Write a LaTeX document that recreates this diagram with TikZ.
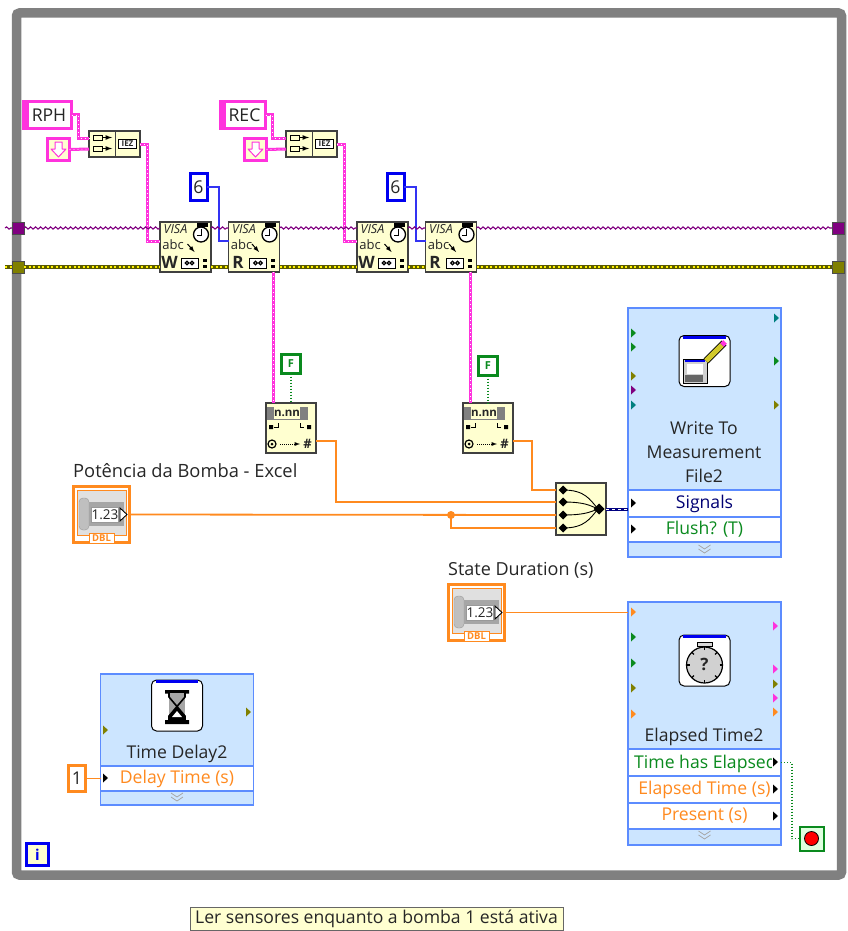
\documentclass[tikz,border=0pt]{standalone}
\usepackage{fontspec}
\setmainfont{Open Sans}
\usetikzlibrary{calc,decorations.pathmorphing}
\definecolor{lvgray}{HTML}{808080}
\definecolor{lvpink}{HTML}{FF33DD}
\definecolor{lvorange}{HTML}{FF8A1F}
\definecolor{lvblue}{HTML}{0000F0}
\definecolor{lvgreen}{HTML}{0A8A1E}
\definecolor{lvolive}{HTML}{808000}
\definecolor{lvpurple}{HTML}{800080}
\definecolor{lvteal}{HTML}{008080}
\definecolor{lvcream}{HTML}{FFFFD0}
\definecolor{lvpanel}{HTML}{CCE5FF}
\definecolor{lvedge}{HTML}{5C8CFF}
\tikzset{
  lvtext/.style={font=\fontsize{17.6}{20}\selectfont,text=black!85},
  tiny/.style={font=\fontsize{#1}{#1}\selectfont,inner sep=0pt},
  subvi/.style={draw=black!75,line width=1.3pt,fill=lvcream,inner sep=0pt,outer sep=0pt},
  constbox/.style={draw=#1,line width=3pt,fill=white,inner sep=0pt,outer sep=0pt,lvtext},
  panel/.style={draw=lvedge,line width=1.6pt,fill=lvpanel,inner sep=0pt,outer sep=0pt},
  rowbox/.style={draw=lvedge,line width=1.4pt,fill=white,minimum width=153,inner sep=0pt,outer sep=0pt,lvtext},
  iconbox/.style={draw=black,line width=1pt,fill=white,rounded corners=5pt,minimum size=51,inner sep=0pt,outer sep=0pt},
  numwire/.style={draw=lvorange,line width=1.8pt},
  strwire/.style={draw=lvpink,line width=3pt,postaction={draw=white,line width=.5pt,dash pattern=on 1pt off 3pt}},
  intwire/.style={draw=lvblue!80!white,line width=1.2pt},
  boolwire/.style={draw=lvgreen,line width=1.2pt,dash pattern=on 1.4pt off 1.6pt},
  viswire/.style={draw=lvpurple,line width=1.1pt,decorate,decoration={snake,amplitude=1.1pt,segment length=5pt}},
  errwire/.style={draw=lvolive!70!black,line width=3.2pt,postaction={draw=yellow,line width=1.2pt,dash pattern=on 2pt off 2.5pt}},
  sigwire/.style={draw=blue!50!black,line width=3pt,postaction={draw=white,line width=1pt,dash pattern=on 3pt off 3pt}},
}
\begin{document}
\begin{tikzpicture}[x=1pt,y=-1pt,every node/.style={lvtext}]
\useasboundingbox (0,0) rectangle (847,931);
\node[draw=lvgray,line width=9.5pt,rounded corners=3pt,minimum width=825,minimum height=862,inner sep=0pt] (whileloop) at (429,444) {};
% tunnels
\foreach \n/\x/\y/\c in {visl/18/228/lvpurple,errl/18/267/lvolive,visr/838/228/lvpurple,errr/838/267/lvolive} {
  \node[draw=black!70,fill=\c,minimum size=12,inner sep=0pt,outer sep=0pt] (\n) at (\x,\y) {};
}
% string parts and VISA pairs
\foreach \k/\dx/\t/\r/\w/\fy in {1/0/RPH/73/51/364,2/197/REC/70/48/366} {
\begin{scope}[shift={(\dx,0)}]
  \node[constbox=lvpink,anchor=east,minimum width=\w-3,minimum height=27] (str\k) at (\r-1.5,115) {\hspace{3pt}\t};
  \fill[lvpink] (str\k.north west) rectangle ($(str\k.south west)+(5,0)$);
  \node[constbox=lvpink,fill=lvcream,minimum size=22] (eol\k) at (58.5,149.5) {};
  \draw[lvpink,line width=1pt,fill=white,line join=round] (55,142) -- (62,142) -- (62,149) -- (66,149) -- (58.5,157) -- (51,149) -- (55,149) -- cycle;
  \node[subvi,minimum width=51,minimum height=26] (concat\k) at (114.5,144) {};
  \draw[black!75,line width=1pt] (115,131) -- (115,157);
  \draw[black,line width=.9pt] (93,135) rectangle (102,140) (93,146) rectangle (102,151);
  \foreach \y in {137.5,148.5} {\draw[-latex,black,line width=1.2pt] (103,\y) -- (112,\y);}
  \node[draw=black,line width=1pt,fill=white,minimum width=18,minimum height=9,inner sep=0pt,font=\fontsize{8}{8}\bfseries\selectfont] at (127.5,144) {IEZ};
  \coordinate (concat\k a) at (89,138);
  \coordinate (concat\k b) at (89,149);
  \draw[strwire] (str\k.east) -- ++(7,0) |- (concat\k a);
  \draw[strwire] (eol\k.east) -- (concat\k b);
  \node[constbox=lvblue,minimum width=17,minimum height=27] (six\k) at (198.5,187) {6};
  \foreach \n/\x/\l/\a in {visaw/185.5/W/1,visar/254/R/-1} {
  \begin{scope}[shift={(\x,247)}]
    \node[subvi,minimum width=51,minimum height=50] (\n\k) at (0,0) {};
    \node[font=\fontsize{12.5}{13}\itshape\selectfont,inner sep=0pt] at (-10,-17.5) {VISA};
    \node[tiny=13] at (-12.5,-2.5) {abc};
    \fill[black] (11,-24.5) rectangle (22,-20);
    \draw[black,line width=1.3pt,fill=white] (15.5,-12.5) circle (7.5);
    \draw[black,line width=1pt] (15.5,-18) -- (15.5,-12) -- (11,-12);
    \draw[-latex,black,line width=1pt] (\a*2-0,-3) -- (\a*2+7,5);
    \node[font=\fontsize{17}{17}\bfseries\selectfont,inner sep=0pt] at (-16,15.5) {\l};
    \node[draw=black,line width=1pt,fill=white,minimum width=17,minimum height=10,inner sep=0pt] at (4,16) {};
    \draw[black,line width=1.2pt] (1.5,16) circle (1.7) (6.5,16) circle (1.7);
    \foreach \y in {12,18} {\fill[black] (17,\y) rectangle (21,\y+3);}
    \coordinate (\n\k vi) at (-25.5,-19);
    \coordinate (\n\k vo) at (25.5,-19);
    \coordinate (\n\k ei) at (-25.5,20);
    \coordinate (\n\k eo) at (25.5,20);
    \coordinate (\n\k in) at (-25.5,-6);
    \coordinate (\n\k out) at (19,25);
  \end{scope}
  }
  \draw[strwire] (concat\k.east) -- ++(7,0) |- (visaw\k in);
  \draw[intwire] (six\k.east) -- ++(12,0) |- (visar\k in);
  \node[constbox=lvgreen,minimum size=19,font=\fontsize{11}{12}\bfseries\selectfont,text=lvgreen] (fconst\k) at (291,\fy) {F};
  \node[subvi,minimum size=50] (frac\k) at (291,428) {};
  \node[draw=none,fill=black!50,minimum width=41,minimum height=13,inner sep=0pt] at (287,413) {};
  \node[fill=lvcream,minimum width=26,minimum height=12,inner sep=0pt,font=\fontsize{11.5}{12}\bfseries\selectfont] at (287,413) {n.nn};
  \fill[black] (269,425) rectangle (273,429) (311,425) rectangle (307,429);
  \draw[black,line width=1pt] (274,427) -- (278,427) -- (278,423) (304,427) -- (300,427) -- (300,423);
  \draw[black,line width=1.2pt] (272,444) circle (4);
  \fill[black] (272,444) circle (1.5);
  \draw[-latex,black,line width=.9pt,dash pattern=on 1pt off 1pt] (280,444) -- (300,444);
  \node[font=\fontsize{13}{13}\bfseries\selectfont,inner sep=0pt] at (307.5,444) {\#};
  \coordinate (frac\k out) at (316,441);
  \draw[strwire] (visar\k out) -- (visar\k out |- frac\k.north);
  \draw[boolwire] (fconst\k.south) -- (frac\k.north);
\end{scope}
}
% chain wires
\coordinate (visstub) at (5,228);
\coordinate (errstub) at (5,267);
\draw[viswire] (visstub) -- (visl.west);
\draw[errwire] (errstub) -- (errl.west);
\foreach \a/\b in {visl.east/visaw1vi,visaw1vo/visar1vi,visar1vo/visaw2vi,visaw2vo/visar2vi,visar2vo/visr.west} {\draw[viswire] (\a) -- (\b);}
\foreach \a/\b in {errl.east/visaw1ei,visaw1eo/visar1ei,visar1eo/visaw2ei,visaw2eo/visar2ei,visar2eo/errr.west} {\draw[errwire] (\a) -- (\b);}
% controls
\foreach \n/\x/\y/\t/\lx/\fs in {potencia/72/485/{Potência da Bomba - Excel}/73/18.3,duracao/447/583/{State Duration (s)}/448/18} {
\begin{scope}[shift={(\x,\y)}]
  \node[draw=lvorange,line width=3pt,fill=white,minimum size=56,inner sep=0pt,outer sep=0pt] (\n) at (29.5,29.5) {};
  \draw[lvorange,line width=.8pt,fill=black!12] (5,5) rectangle (54,50);
  \fill[black!35] (8,17) rectangle (52,41);
  \fill[black!25,draw=black!40,rounded corners=4pt] (7,13) rectangle (17,45);
  \node[draw=black!40,fill=white,minimum width=27,minimum height=15,inner sep=0pt,font=\fontsize{13.5}{14}\selectfont] at (33,29.5) {1.23};
  \draw[black,line width=.9pt,fill=white] (48,23) -- (55,29.5) -- (48,36) -- cycle;
  \node[draw=lvorange,line width=1pt,fill=white,text=lvorange,minimum width=25,minimum height=10,inner sep=0pt,font=\fontsize{9.5}{9}\bfseries\selectfont] at (29.5,53) {DBL};
  \node[anchor=base west,inner sep=0pt,font=\fontsize{\fs}{20}\selectfont] (\n label) at (\lx-\x,-8) {\t};
\end{scope}
}
% merge signals
\node[subvi,minimum width=50,minimum height=52] (merge) at (581,509) {};
\foreach \n/\y in {a/490,b/502,c/515,d/528} {
  \coordinate (merge\n) at (556,\y);
  \fill[black] (563,\y-4.5) -- (567.5,\y) -- (563,\y+4.5) -- (558.5,\y) -- cycle;
  \draw[black,line width=.9pt] (563,\y) .. controls (585,\y) and (590,{(\y+509)/2}) .. (598,509);
}
\fill[black] (599,503.5) -- (604.5,509) -- (599,514.5) -- (593.5,509) -- cycle;
% express blocks
\node[panel,minimum width=153,minimum height=249] (writefile) at (704.5,432.5) {};
\node[panel,minimum width=153,minimum height=243] (elapsed) at (704.5,723.5) {};
\node[panel,minimum width=153,minimum height=131] (timedelay) at (177,739.5) {};
\foreach \n/\x/\y/\h/\c/\t in {signals/704.5/503.5/27/blue!45!black/Signals,flush/704.5/529.5/25/lvgreen/Flush? (T),delayrow/177/778.5/25/lvorange/Delay Time (s),timerow/704.5/762.5/27/lvgreen/,elapsedrow/704.5/789.5/27/lvorange/Elapsed Time (s),present/704.5/816/26/lvorange/Present (s)} {
  \node[rowbox,minimum height=\h,text=\c] (\n) at (\x,\y) {\raisebox{-1pt}{\t}};
}
\begin{scope}
  \clip (630,750) rectangle (771,775);
  \node[anchor=west,inner sep=0pt,text=lvgreen] (timelabel) at (634,763.5) {Time has Elapsed};
\end{scope}
\node[font=\fontsize{17.6}{23.8}\selectfont,align=center,inner sep=0pt] (writelabel) at (704,452) {Write To\\Measurement\\File2};
\node[inner sep=0pt] (elapsedlabel) at (704,737) {Elapsed Time2};
\node[inner sep=0pt] (delaylabel) at (177,754) {Time Delay2};
\foreach \x/\y in {704.5/549,704.5/835,177/797} {
  \draw[black!35,line width=.8pt] (\x-6,\y-4) -- (\x,\y) -- (\x+6,\y-4) (\x-6,\y) -- (\x,\y+4) -- (\x+6,\y);
}
\foreach \x/\y/\c in {631/333/lvgreen,631/347/lvgreen,631/376/lvolive,631/390/lvpurple,631/405/lvteal,774/318/lvteal,774/361/lvgreen,774/405/lvolive,631/503/black,631/529/black,631/612/lvorange,631/637/lvgreen,631/663/lvgreen,631/688/lvolive,631/714/lvorange,773/626/lvpink,773/669/lvpink,773/684/lvolive,773/698/lvpink,773/712/lvorange,773/762/black,773/789/black,773/816/black,103/730/lvolive,246/712/lvolive,103/778/black} {
  \fill[\c] (\x,\y) ++(0,-4.5) -- ++(5,4.5) -- ++(-5,4.5) -- cycle;
}
% icons
\node[iconbox] (writeicon) at (704.5,361) {};
\fill[lvblue] (683,335.5) rectangle (726,338.5);
\draw[black,fill=black!18] (683,359) rectangle (707,383);
\fill[lvblue] (685,360) rectangle (705,362);
\fill[white] (687,364) rectangle (703,374);
\fill[black!60] (685,375) rectangle (703,382);
\draw[line width=7pt,black] (706,361) -- (724,343);
\draw[line width=5pt,yellow!80!black] (706,361) -- (722,345);
\draw[line width=5pt,lvpink] (722,345) -- (725,342);
\node[iconbox] (watchicon) at (704.5,660.5) {};
\fill[lvblue] (683,635) rectangle (726,638);
\draw[black,fill=black!15,line width=.8pt] (697,642) rectangle (712,646);
\draw[black,line width=1.2pt,fill=black!18] (704.5,665) circle (18);
\foreach \a in {0,45,...,315} {\draw[black,line width=1.2pt] (704.5,665) ++(\a:15) -- ++(\a:3);}
\node[inner sep=0pt,font=\fontsize{17}{17}\bfseries\selectfont] at (704.5,664) {?};
\node[iconbox] (glassicon) at (177,705.5) {};
\fill[lvblue] (156,680) rectangle (198,683);
\fill[black] (165,690) rectangle (189,693.5) (165,720) rectangle (189,724);
\fill[black!35] (169,693) rectangle (185,720);
\draw[black,line width=1.6pt] (169,693) -- (169,697) -- (185,716) -- (185,720) (185,693) -- (185,697) -- (169,716) -- (169,720);
\fill[black] (177,707) -- (185,716) -- (185,720) -- (169,720) -- (169,716) -- cycle;
\fill[white] (177,711) -- (182,717) -- (172,717) -- cycle;
% the rest
\node[constbox=lvorange,minimum width=17,minimum height=26] (one) at (77,778.5) {1};
\node[constbox=lvblue,fill=lvcream,minimum size=22,font=\fontsize{15}{15}\bfseries\selectfont,text=lvblue] (iter) at (37.5,854.5) {i};
\node[draw=lvgreen,line width=2pt,fill=green!12,minimum size=24,inner sep=0pt,outer sep=0pt] (stopbtn) at (811.5,838.5) {};
\node[draw=black,line width=.8pt,fill=red,circle,minimum size=14,inner sep=0pt] (stopdot) at (811.5,838.5) {};
\node[draw=black!60,line width=1pt,fill=lvcream,minimum width=373,minimum height=23,inner sep=0pt,font=\fontsize{17.6}{18}\selectfont] (caption) at (376.5,919) {Ler sensores enquanto a bomba 1 está ativa};
\draw[numwire] (frac1out) -- ++(20,0) |- (mergeb);
\draw[numwire] (frac2out) -- ++(19,0) |- (mergea);
\draw[numwire] (potencia.east) -- (mergec);
\fill[lvorange] (451,515) circle (4) coordinate (tee);
\draw[numwire] (tee) |- (merged);
\coordinate (signalsin) at (628,509);
\coordinate (timerin) at (628,612.5);
\coordinate (delayin) at (101,778.5);
\coordinate (timerport) at (781,762.5);
\draw[sigwire] (merge.east) -- (signalsin);
\draw[numwire] (duracao.east) -- (timerin);
\draw[numwire] (one.east) -- (delayin);
\draw[boolwire] (timerport) -- ++(11,0) |- (stopbtn.west);
\end{tikzpicture}
\end{document}
